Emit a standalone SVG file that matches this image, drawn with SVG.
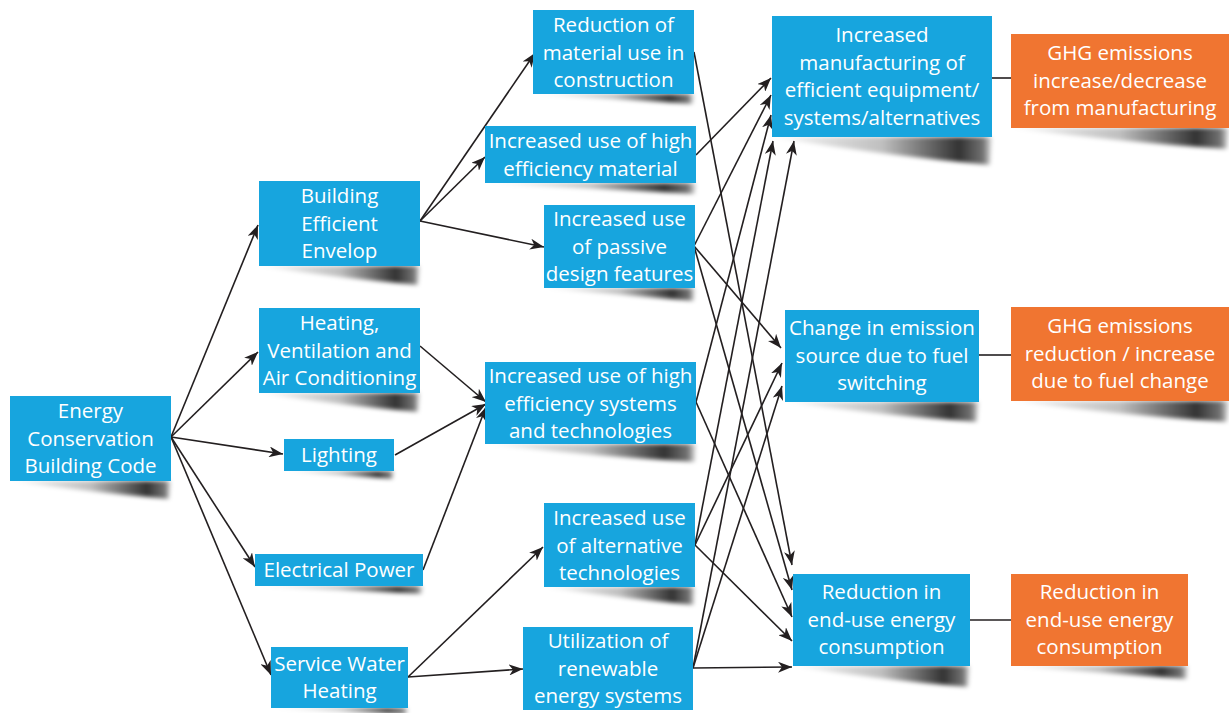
<svg xmlns="http://www.w3.org/2000/svg" width="1229" height="713" viewBox="0 0 1229 713">
<style>
.b{fill:#17A5DE}
.o{fill:#F07531}
.t{fill:#fff;font-family:"Open Sans","Noto Sans",sans-serif;font-size:20.5px;text-anchor:middle}
.sh{fill:url(#sg);filter:url(#bl)}
.c line{stroke:#231F20;stroke-width:1.6;fill:none}
.c .a{marker-end:url(#ah)}
.p{stroke:#231F20;stroke-width:2.2}
</style>
<defs>
<linearGradient id="sg" x1="0" y1="0" x2="1" y2="0">
<stop offset="0" stop-color="#000" stop-opacity="0.02"/>
<stop offset="0.5" stop-color="#000" stop-opacity="0.25"/>
<stop offset="0.85" stop-color="#000" stop-opacity="0.8"/>
<stop offset="0.96" stop-color="#000" stop-opacity="0.55"/>
<stop offset="1" stop-color="#000" stop-opacity="0.1"/>
</linearGradient>
<filter id="bl" x="-10%" y="-60%" width="120%" height="220%"><feGaussianBlur stdDeviation="2.2"/></filter>
<marker id="ah" markerUnits="userSpaceOnUse" markerWidth="15" markerHeight="11" refX="14" refY="5.5" orient="auto">
<path d="M0,0 L14,5.5 L0,11 L4,5.5 Z" fill="#231F20"/>
</marker>
</defs>

<g class="c" id="connectors">
<line class="a" x1="171" y1="437" x2="258" y2="225"/>
<line class="a" x1="171" y1="437" x2="258" y2="352"/>
<line class="a" x1="171" y1="437" x2="283" y2="454"/>
<line class="a" x1="171" y1="437" x2="255" y2="567"/>
<line class="a" x1="171" y1="437" x2="271" y2="675"/>
<line class="a" x1="420" y1="221" x2="535" y2="53"/>
<line class="a" x1="420" y1="221" x2="485" y2="157"/>
<line class="a" x1="420" y1="221" x2="544" y2="247"/>
<line class="a" x1="420" y1="346" x2="486" y2="402"/>
<line class="a" x1="395" y1="455" x2="486" y2="404"/>
<line class="a" x1="423" y1="570" x2="486" y2="407"/>
<line class="a" x1="408" y1="677" x2="543" y2="547"/>
<line class="a" x1="408" y1="677" x2="523" y2="669"/>
<line class="a" x1="694" y1="52" x2="792" y2="565"/>
<line class="a" x1="696" y1="155" x2="771" y2="78"/>
<line class="a" x1="694" y1="246" x2="771" y2="95"/>
<line class="a" x1="694" y1="246" x2="781" y2="348"/>
<line class="a" x1="694" y1="246" x2="792" y2="590"/>
<line class="a" x1="696" y1="402" x2="771" y2="115"/>
<line class="a" x1="696" y1="402" x2="792" y2="617"/>
<line class="a" x1="695" y1="545" x2="773" y2="141"/>
<line class="a" x1="695" y1="545" x2="782" y2="363"/>
<line class="a" x1="695" y1="545" x2="792" y2="641"/>
<line class="a" x1="693" y1="668" x2="794" y2="141"/>
<line class="a" x1="693" y1="668" x2="782" y2="386"/>
<line class="a" x1="693" y1="668" x2="792" y2="667"/>
<line class="p" x1="992" y1="78" x2="1011" y2="78"/>
<line class="p" x1="979" y1="355" x2="1011" y2="355"/>
<line class="p" x1="970" y1="620" x2="1011" y2="620"/>
</g>

<g id="ecbc">
<path class="sh" d="M10,481 L171,481 L169,499 Q90,492 10,481 Z"/>
<rect class="b" x="10" y="396" width="161" height="85"/>
<text class="t" x="90.5" y="418">Energy</text>
<text class="t" x="90.5" y="445.5">Conservation</text>
<text class="t" x="90.5" y="473">Building Code</text>
</g>

<g id="envelop">
<path class="sh" d="M259,266 L420,266 L418,285 Q339,278 259,266 Z"/>
<rect class="b" x="259" y="181" width="161" height="85"/>
<text class="t" x="339.5" y="203">Building</text>
<text class="t" x="339.5" y="230.5">Efficient</text>
<text class="t" x="339.5" y="258">Envelop</text>
</g>

<g id="hvac">
<path class="sh" d="M259,393 L420,393 L418,412 Q339,405 259,393 Z"/>
<rect class="b" x="259" y="308" width="161" height="85"/>
<text class="t" x="339.5" y="330">Heating,</text>
<text class="t" x="339.5" y="357.5">Ventilation and</text>
<text class="t" x="339.5" y="385">Air Conditioning</text>
</g>

<g id="lighting">
<path class="sh" d="M284,471 L394,471 L393,479 Z"/>
<rect class="b" x="284" y="439" width="110" height="32"/>
<text class="t" x="339" y="462">Lighting</text>
</g>

<g id="electrical">
<path class="sh" d="M255,586 L423,586 L422,594 Z"/>
<rect class="b" x="255" y="554" width="168" height="32"/>
<text class="t" x="339" y="577">Electrical Power</text>
</g>

<g id="swh">
<path class="sh" d="M271,708 L408,708 L407,714 Z"/>
<rect class="b" x="271" y="647" width="137" height="61"/>
<text class="t" x="339.5" y="670.5">Service Water</text>
<text class="t" x="339.5" y="698">Heating</text>
</g>

<g id="material">
<path class="sh" d="M533,94 L694,94 L693,104 Z"/>
<rect class="b" x="533" y="10" width="161" height="84"/>
<text class="t" x="613.5" y="32">Reduction of</text>
<text class="t" x="613.5" y="59.5">material use in</text>
<text class="t" x="613.5" y="87">construction</text>
</g>

<g id="hematerial">
<path class="sh" d="M485,183 L696,183 L695,194 Z"/>
<rect class="b" x="485" y="126" width="211" height="57"/>
<text class="t" x="590.5" y="148">Increased use of high</text>
<text class="t" x="590.5" y="175.5">efficiency material</text>
</g>

<g id="passive">
<path class="sh" d="M544,288 L695,288 L694,301 Z"/>
<rect class="b" x="544" y="205" width="151" height="83"/>
<text class="t" x="619.5" y="226">Increased use</text>
<text class="t" x="619.5" y="253.5">of passive</text>
<text class="t" x="619.5" y="281">design features</text>
</g>

<g id="hesystems">
<path class="sh" d="M485,444 L696,444 L695,462 Q590,456 485,444 Z"/>
<rect class="b" x="485" y="362" width="211" height="82"/>
<text class="t" x="590.5" y="383">Increased use of high</text>
<text class="t" x="590.5" y="410.5">efficiency systems</text>
<text class="t" x="590.5" y="438">and technologies</text>
</g>

<g id="alternative">
<path class="sh" d="M544,587 L695,587 L694,605 Q619,598 544,587 Z"/>
<rect class="b" x="544" y="503" width="151" height="84"/>
<text class="t" x="619.5" y="525">Increased use</text>
<text class="t" x="619.5" y="552.5">of alternative</text>
<text class="t" x="619.5" y="580">technologies</text>
</g>

<g id="renewable">
<rect class="b" x="523" y="627" width="170" height="83"/>
<text class="t" x="608" y="648">Utilization of</text>
<text class="t" x="608" y="675.5">renewable</text>
<text class="t" x="608" y="703">energy systems</text>
</g>

<g id="manufacturing">
<path class="sh" d="M772,137 L992,137 L990,165 Q880,155 772,137 Z"/>
<rect class="b" x="772" y="16" width="220" height="121"/>
<text class="t" x="882" y="42">Increased</text>
<text class="t" x="882" y="69.5">manufacturing of</text>
<text class="t" x="882" y="97">efficient equipment/</text>
<text class="t" x="882" y="124.5">systems/alternatives</text>
</g>

<g id="fuelswitch">
<path class="sh" d="M785,402 L979,402 L977,422 Q880,415 785,402 Z"/>
<rect class="b" x="785" y="310" width="194" height="92"/>
<text class="t" x="882" y="335">Change in emission</text>
<text class="t" x="882" y="362.5">source due to fuel</text>
<text class="t" x="882" y="390">switching</text>
</g>

<g id="enduse">
<path class="sh" d="M793,666 L970,666 L968,687 Q880,680 793,666 Z"/>
<rect class="b" x="793" y="574" width="177" height="92"/>
<text class="t" x="881.5" y="599">Reduction in</text>
<text class="t" x="881.5" y="626.5">end-use energy</text>
<text class="t" x="881.5" y="654">consumption</text>
</g>

<g id="ghg-manufacturing">
<path class="sh" d="M1011,128 L1229,128 L1227,149 Q1120,142 1011,128 Z"/>
<rect class="o" x="1011" y="34" width="218" height="94"/>
<text class="t" x="1120" y="60">GHG emissions</text>
<text class="t" x="1120" y="87.5">increase/decrease</text>
<text class="t" x="1120" y="115">from manufacturing</text>
</g>

<g id="ghg-fuel">
<path class="sh" d="M1011,401 L1229,401 L1227,422 Q1120,415 1011,401 Z"/>
<rect class="o" x="1011" y="307" width="218" height="94"/>
<text class="t" x="1120" y="333">GHG emissions</text>
<text class="t" x="1120" y="360.5">reduction / increase</text>
<text class="t" x="1120" y="388">due to fuel change</text>
</g>

<g id="ghg-enduse">
<path class="sh" d="M1011,666 L1188,666 L1187,679 Z"/>
<rect class="o" x="1011" y="574" width="177" height="92"/>
<text class="t" x="1099.5" y="599">Reduction in</text>
<text class="t" x="1099.5" y="626.5">end-use energy</text>
<text class="t" x="1099.5" y="654">consumption</text>
</g>
</svg>
